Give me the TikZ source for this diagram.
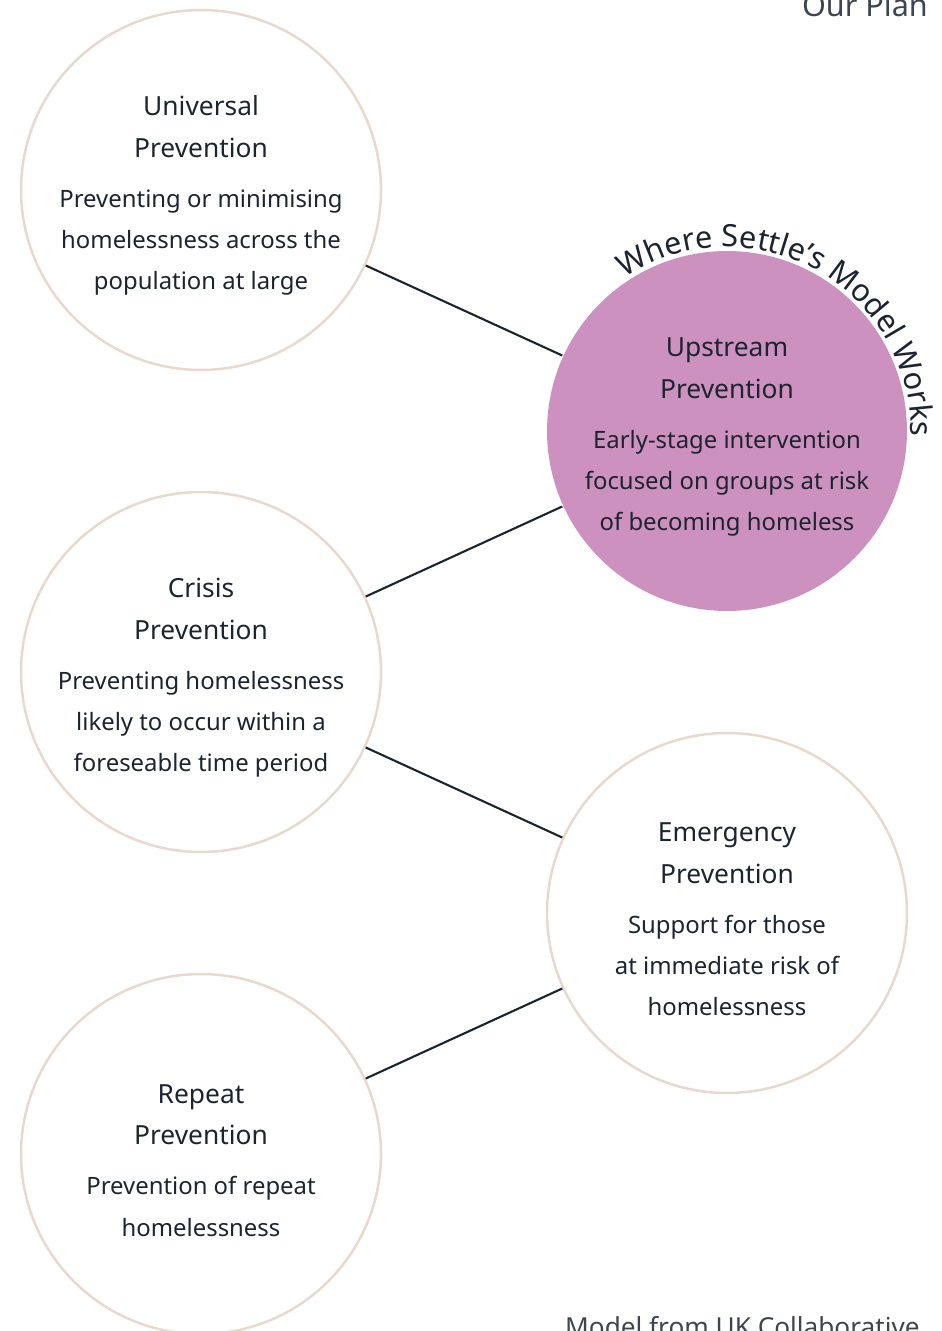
\documentclass[tikz,border=0pt]{standalone}
\usepackage{fontspec}
\setmainfont{Noto Sans}
\usetikzlibrary{decorations.text}

\definecolor{rim}{HTML}{E9D8CB}
\definecolor{orchid}{HTML}{CD91BF}
\definecolor{ink}{HTML}{1C2331}

\tikzset{
	stage/.style={circle,draw=rim,line width=1.4pt,minimum size=7.2cm,inner sep=0pt,
		align=center,text=ink,font=\fontsize{13.6}{23.5}\selectfont},
	hot/.style={stage,draw=none,fill=orchid},
	link/.style={draw=ink,line width=1.2pt}
}
% heading line; the strut drops the text block a little below the centre
\newcommand{\stagehead}[1]{{\fontsize{15}{23.5}\selectfont #1}}
\newcommand{\stagetop}{\rule{0pt}{18pt}}

\begin{document}
\begin{tikzpicture}[x=0.02cm,y=0.02cm]
		\useasboundingbox (0,0) rectangle (942,-1331);
		\clip (0,0) rectangle (942,-1331);

		\draw
			node [stage] (univ)   at (201,-190)  {\stagetop\stagehead{Universal}\\\stagehead{Prevention}\\[5pt]
				Preventing or minimising\\homelessness across the\\population at large}
			node [hot]   (upst)   at (727,-431)  {\stagetop\stagehead{Upstream}\\\stagehead{Prevention}\\[5pt]
				Early-stage intervention\\focused on groups at risk\\of becoming homeless}
			node [stage] (crisis) at (201,-672)  {\stagetop\stagehead{Crisis}\\\stagehead{Prevention}\\[5pt]
				Preventing homelessness\\likely to occur within a\\foreseable time period}
			node [stage] (emerg)  at (727,-913)  {\stagetop\stagehead{Emergency}\\\stagehead{Prevention}\\[5pt]
				Support for those\\at immediate risk of\\homelessness}
			node [stage] (repeat) at (201,-1154) {\stagetop\stagehead{Repeat}\\\stagehead{Prevention}\\[5pt]
				Prevention of repeat\\homelessness}

			(univ)   edge [link] (upst)
			(crisis) edge [link] (upst)
			(crisis) edge [link] (emerg)
			(repeat) edge [link] (emerg)
		;

		% label bent round the upstream circle
		\path [decorate,decoration={text along path,text align=center,
			text={|\fontsize{17.5}{17.5}\selectfont\color{ink}|Where Settle's Model Works}}]
			(upst.center) ++(128:3.68cm) arc [start angle=128,end angle=-6,radius=3.68cm];

		\node [anchor=base east,text=ink!85,font=\fontsize{17.4}{17.4}\selectfont] (plan) at (934,-17) {Our Plan};
		\node [anchor=base west,text=ink!85,font=\fontsize{14.9}{14.9}\selectfont] (credit) at (559,-1336) {Model from UK Collaborative};
\end{tikzpicture}
\end{document}
